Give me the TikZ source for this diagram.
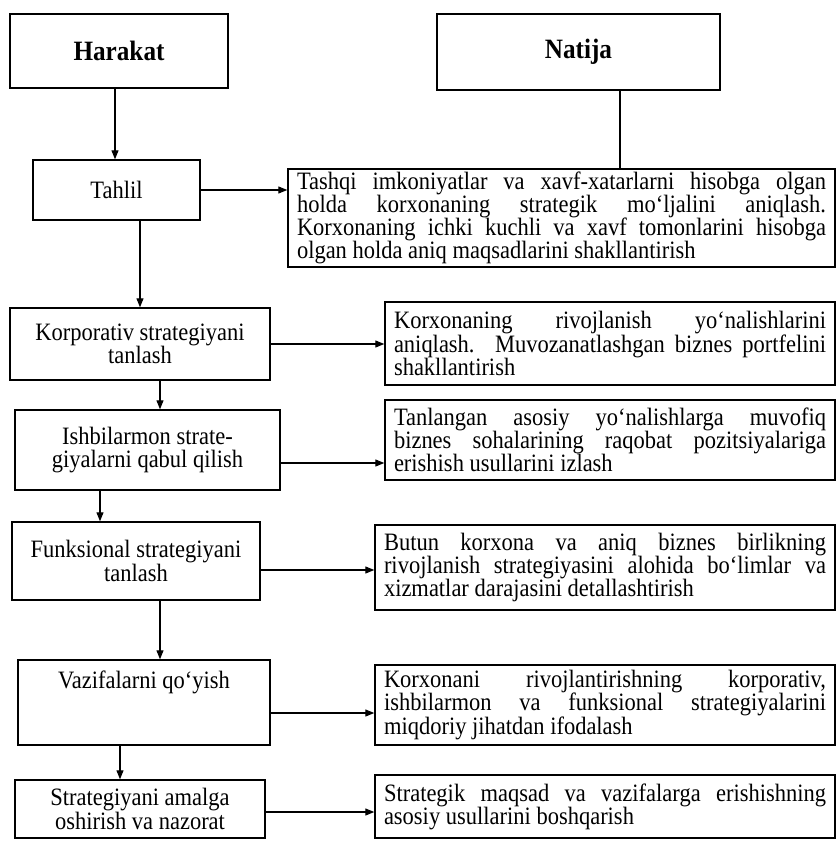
\documentclass[tikz,border=0pt]{standalone}
\usepackage{fontspec}
\setmainfont[FakeStretch=0.9]{Liberation Serif}
\usetikzlibrary{arrows.meta,calc}
\begin{document}
\begin{tikzpicture}[x=1pt,y=-1pt,
  box/.style={draw=black,line width=1.4pt,rectangle,inner sep=0pt,align=center,font=\fontsize{25}{23.5}\selectfont},
  rbox/.style={draw=black,line width=1.4pt,rectangle,inner xsep=9pt,inner ysep=0pt,align=justify,font=\fontsize{25}{23.2}\selectfont},
  hbox/.style={box,font=\fontsize{28}{28}\selectfont\bfseries},
  arr/.style={line width=1.1pt,-{Triangle[length=9pt,width=7pt]}},
  ln/.style={line width=1.1pt}]
\useasboundingbox (0,0) rectangle (838,859);
% headers
\node[hbox,minimum width=218pt,minimum height=74pt] (har) at (119,51) {Harakat};
\node[hbox,minimum width=283pt,minimum height=76pt] (nat) at (578.5,52) {Natija};
% left column
\node[box,minimum width=167pt,minimum height=60pt] (tah) at (116.5,190) {Tahlil};
\node[box,minimum width=260pt,minimum height=72pt] (kor) at (140,344) {Korporativ strategiyani\\tanlash};
\node[box,minimum width=265pt,minimum height=80pt] (ish) at (147.5,450) {Ishbilarmon strate-\\giyalarni qabul qilish};
\node[box,minimum width=248pt,minimum height=78pt] (fun) at (136,561) {Funksional strategiyani\\tanlash};
\node[box,minimum width=252pt,minimum height=85pt] (vaz) at (144,702.5) {Vazifalarni qo‘yish\\[22pt]};
\node[box,minimum width=250pt,minimum height=58pt] (str) at (140,809) {Strategiyani amalga\\oshirish va nazorat};
% right column
\node[rbox,text width=529pt,minimum height=98pt] (r1) at (561.5,218) {Tashqi imkoniyatlar va xavf-xatarlarni hisobga olgan\linebreak holda korxonaning strategik mo‘ljalini aniqlash.\linebreak Korxonaning ichki kuchli va xavf tomonlarini hisobga\linebreak olgan holda aniq maqsadlarini shakllantirish};
\node[rbox,text width=432pt,minimum height=83pt] (r2) at (610,343.5) {Korxonaning rivojlanish yo‘nalishlarini\linebreak aniqlash. Muvozanatlashgan biznes portfelini\linebreak shakllantirish};
\node[rbox,text width=432pt,minimum height=80pt] (r3) at (610,440) {Tanlangan asosiy yo‘nalishlarga muvofiq\linebreak biznes sohalarining raqobat pozitsiyalariga\linebreak erishish usullarini izlash};
\node[rbox,text width=442pt,minimum height=85pt] (r4) at (605,567.5) {Butun korxona va aniq biznes birlikning\linebreak rivojlanish strategiyasini alohida bo‘limlar va\linebreak xizmatlar darajasini detallashtirish};
\node[rbox,text width=442pt,minimum height=80pt] (r5) at (605,705) {Korxonani rivojlantirishning korporativ,\linebreak ishbilarmon va funksional strategiyalarini\linebreak miqdoriy jihatdan ifodalash};
\node[rbox,text width=442pt,minimum height=63pt] (r6) at (605,806.5) {Strategik maqsad va vazifalarga erishishning\linebreak asosiy usullarini boshqarish};
% helper coordinates
\coordinate (xa) at (115,0);
\coordinate (xn) at (620,0);
\coordinate (xb) at (160,0);
\coordinate (xc) at (100,0);
\coordinate (xd) at (160,0);
\coordinate (xe) at (120,0);
\coordinate (y3) at (0,463);
\coordinate (y4) at (0,570);
\coordinate (y5) at (0,713);
\coordinate (y6) at (0,812);
% vertical connectors
\draw[arr] (har.south -| xa) -- (tah.north -| xa);
\draw[ln] (nat.south -| xn) -- (r1.north -| xn);
\draw[arr] (tah.south -| kor.north) -- (kor.north);
\draw[arr] (kor.south -| xb) -- (ish.north -| xb);
\draw[arr] (ish.south -| xc) -- (fun.north -| xc);
\draw[arr] (fun.south -| xd) -- (vaz.north -| xd);
\draw[arr] (vaz.south -| xe) -- (str.north -| xe);
% horizontal connectors
\draw[arr] (tah.east) -- (r1.west |- tah.east);
\draw[arr] (kor.east) -- (r2.west |- kor.east);
\draw[arr] (ish.east |- y3) -- (r3.west |- y3);
\draw[arr] (fun.east |- y4) -- (r4.west |- y4);
\draw[arr] (vaz.east |- y5) -- (r5.west |- y5);
\draw[arr] (str.east |- y6) -- (r6.west |- y6);
\end{tikzpicture}
\end{document}
